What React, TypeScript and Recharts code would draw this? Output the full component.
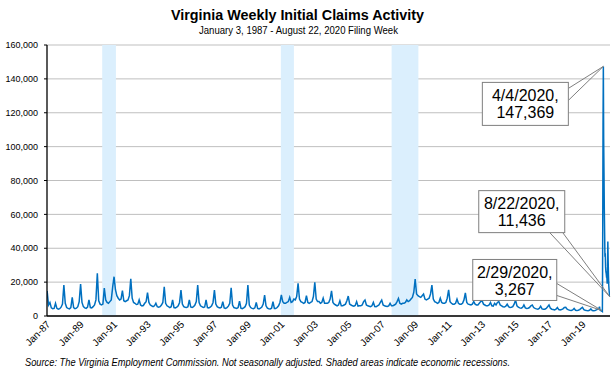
import React from 'react';
import {
  ComposedChart,
  Line,
  XAxis,
  YAxis,
  CartesianGrid,
  ReferenceArea,
  ReferenceDot,
} from 'recharts';

// ---------- DATA ----------
const firstYear = 1987;

// Monthly initial claims (thousands), Jan..Dec, one row per year 1987-2019
const monthlyClaimsK: number[][] = [
  [14.7, 6.5, 8.0, 4.8, 4.3, 4.5, 7.5, 4.5, 4.0, 4.3, 5.2, 7.0], // 1987
  [18.3, 7.5, 5.0, 4.5, 4.2, 5.0, 11.0, 5.0, 4.3, 4.6, 5.5, 8.5], // 1988
  [18.9, 8.0, 5.5, 4.8, 4.5, 5.2, 9.5, 5.0, 4.8, 5.5, 6.5, 9.5], // 1989
  [25.2, 9.0, 7.0, 6.5, 7.0, 16.5, 9.5, 8.0, 7.5, 8.5, 9.5, 17.0], // 1990
  [23.2, 15.5, 12.0, 10.5, 9.5, 10.0, 15.0, 9.0, 8.5, 9.0, 9.5, 12.0], // 1991
  [22.0, 10.5, 8.0, 7.5, 6.8, 7.0, 9.5, 6.5, 6.0, 6.2, 7.5, 8.5], // 1992
  [13.8, 8.0, 6.5, 6.0, 5.5, 6.0, 7.5, 5.5, 5.2, 5.5, 6.5, 8.0], // 1993
  [17.3, 7.5, 6.0, 5.5, 5.0, 5.5, 9.5, 5.0, 4.8, 5.2, 6.0, 8.0], // 1994
  [15.3, 7.0, 5.5, 5.2, 5.0, 5.5, 9.5, 5.3, 5.0, 5.5, 6.5, 8.5], // 1995
  [18.3, 8.0, 6.0, 5.5, 5.0, 5.3, 9.5, 5.0, 4.8, 5.2, 6.0, 8.0], // 1996
  [15.3, 7.0, 5.5, 5.0, 4.8, 5.2, 8.5, 4.8, 4.5, 5.0, 5.8, 7.5], // 1997
  [16.7, 6.5, 5.0, 4.7, 4.5, 5.0, 8.8, 4.6, 4.3, 4.8, 5.5, 7.5], // 1998
  [18.3, 6.5, 5.0, 4.5, 4.3, 4.8, 8.0, 4.5, 4.2, 4.6, 5.3, 7.0], // 1999
  [12.4, 6.0, 4.6, 4.3, 4.2, 4.6, 8.5, 4.5, 4.5, 5.0, 6.0, 8.0], // 2000
  [12.4, 8.5, 7.5, 7.5, 8.0, 8.5, 11.0, 8.0, 8.5, 10.0, 9.5, 11.5], // 2001
  [19.3, 10.0, 8.5, 8.0, 7.5, 8.0, 12.0, 8.0, 7.5, 8.0, 8.5, 11.5], // 2002
  [19.9, 10.0, 8.5, 8.5, 7.5, 8.0, 10.5, 7.5, 7.5, 7.5, 8.0, 10.0], // 2003
  [14.9, 8.0, 7.0, 6.5, 6.0, 6.5, 9.0, 6.0, 6.0, 6.5, 7.0, 9.0], // 2004
  [11.8, 7.0, 6.5, 6.0, 5.8, 6.2, 8.5, 5.8, 6.0, 6.0, 6.5, 8.5], // 2005
  [9.4, 6.5, 6.0, 5.8, 5.5, 6.0, 8.0, 5.6, 5.5, 6.0, 6.5, 8.0], // 2006
  [9.4, 6.5, 6.0, 5.8, 5.6, 6.0, 7.5, 6.0, 6.0, 6.5, 7.0, 8.5], // 2007
  [10.4, 7.5, 7.0, 7.5, 7.5, 8.0, 9.5, 8.5, 9.0, 10.0, 11.0, 14.0], // 2008
  [21.8, 13.0, 12.0, 11.5, 11.0, 12.0, 13.0, 10.0, 9.5, 10.0, 10.5, 13.0], // 2009
  [18.3, 10.0, 8.5, 8.0, 7.5, 8.0, 10.5, 8.0, 7.5, 7.5, 8.0, 10.5], // 2010
  [15.5, 8.5, 7.5, 7.0, 7.0, 7.5, 10.0, 7.5, 7.0, 7.0, 7.5, 9.5], // 2011
  [13.6, 8.0, 7.0, 6.8, 6.5, 7.0, 8.5, 7.0, 6.5, 6.5, 7.5, 8.5], // 2012
  [9.0, 7.0, 6.5, 6.0, 6.0, 6.5, 8.0, 6.0, 5.8, 7.5, 6.5, 8.0], // 2013
  [8.5, 6.5, 6.0, 5.5, 5.3, 5.8, 7.0, 5.5, 5.0, 5.2, 5.5, 7.0], // 2014
  [9.4, 6.0, 5.2, 4.8, 4.6, 5.0, 6.5, 4.8, 4.5, 4.6, 5.0, 6.0], // 2015
  [6.5, 5.0, 4.5, 4.2, 4.0, 4.5, 5.8, 4.2, 4.0, 4.0, 4.5, 5.5], // 2016
  [6.5, 4.6, 4.0, 3.8, 3.6, 4.0, 5.0, 3.8, 3.6, 3.8, 4.2, 5.0], // 2017
  [5.1, 4.0, 3.6, 3.4, 3.3, 3.6, 4.5, 3.4, 3.3, 3.4, 3.8, 4.5], // 2018
  [5.1, 3.8, 3.4, 3.2, 3.1, 3.4, 4.2, 3.2, 3.1, 3.3, 3.6, 4.0], // 2019
];

// Weekly filing weeks in 2020
const weeks2020: string[] = [
  '2020-01-04', '2020-01-11', '2020-01-18', '2020-01-25', '2020-02-01', '2020-02-08',
  '2020-02-15', '2020-02-22', '2020-02-29', '2020-03-07', '2020-03-14', '2020-03-21',
  '2020-03-28', '2020-04-04', '2020-04-11', '2020-04-18', '2020-04-25', '2020-05-02',
  '2020-05-09', '2020-05-16', '2020-05-23', '2020-05-30', '2020-06-06', '2020-06-13',
  '2020-06-20', '2020-06-27', '2020-07-04', '2020-07-11', '2020-07-18', '2020-07-25',
  '2020-08-01', '2020-08-08', '2020-08-15', '2020-08-22',
];
const claims2020: number[] = [
  4800, 5500, 3900, 3400, 3300, 3200,
  3100, 3000, 3267, 2900, 2706, 46277,
  112497, 147369, 104740, 84669, 63000, 49000,
  35000, 37000, 29000, 26000, 25000, 23000,
  23000, 19000, 25000, 44000, 33000, 24000,
  18000, 15000, 13000, 11436,
];

const annotatedWeeks: string[] = ['2020-04-04', '2020-08-22', '2020-02-29'];

const recessions: [number, number][] = [
  [1990.3, 1991.12],
  [2000.98, 2001.76],
  [2007.6, 2009.2],
];

const xTicks: number[] = [1987, 1989, 1991, 1993, 1995, 1997, 1999, 2001, 2003, 2005, 2007, 2009, 2011, 2013, 2015, 2017, 2019];
const yTicks: number[] = [0, 20000, 40000, 60000, 80000, 100000, 120000, 140000, 160000];
const monthNames = ['Jan', 'Feb', 'Mar', 'Apr', 'May', 'Jun', 'Jul', 'Aug', 'Sep', 'Oct', 'Nov', 'Dec'];

const titleText = 'Virginia Weekly Initial Claims Activity';
const subtitleText = 'January 3, 1987 - August 22, 2020 Filing Week';
const sourceText =
  'Source: The Virginia Employment Commission. Not seasonally adjusted. Shaded areas indicate economic recessions.';

// ---------- BUILD ----------
const isoToYear = (iso: string) => {
  const t = Date.parse(iso + 'T00:00:00Z');
  const y = new Date(t).getUTCFullYear();
  const a = Date.UTC(y, 0, 1);
  const b = Date.UTC(y + 1, 0, 1);
  return y + (t - a) / (b - a);
};

type Pt = { t: number; v: number };
const data: Pt[] = [];
monthlyClaimsK.forEach((row, yi) => {
  row.forEach((k, m) => {
    data.push({ t: firstYear + yi + (m + 0.1) / 12, v: Math.round(k * 1000) });
  });
});
weeks2020.forEach((w, i) => data.push({ t: isoToYear(w), v: claims2020[i] }));

const xMax = isoToYear(weeks2020[weeks2020.length - 1]) + 0.015;

const fmtNum = (v: number) => v.toLocaleString('en-US');
const fmtDate = (iso: string) => {
  const [y, m, d] = iso.split('-').map(Number);
  return `${m}/${d}/${y},`;
};

const FONT = '"Liberation Sans", Arial, sans-serif';

// callout geometry (box offset from data point, leader-line anchors)
const calloutGeo = [
  { dx: -121, dy: 16, w: 86, h: 43, a1: [-35, 22], a2: [-35, 34] },
  { dx: -131, dy: -106, w: 86, h: 42, a1: [-60, -64], a2: [-47, -64] },
  { dx: -129, dy: -51, w: 84, h: 41, a1: [-45, -27], a2: [-45, -15] },
];

const Callout = (props: any) => {
  const { cx, cy, geo, lines } = props;
  if (cx == null || cy == null) return null;
  const bx = cx + geo.dx;
  const by = cy + geo.dy;
  return (
    <g>
      <line x1={cx + geo.a1[0]} y1={cy + geo.a1[1]} x2={cx} y2={cy} stroke="#7f7f7f" strokeWidth={1} />
      <line x1={cx + geo.a2[0]} y1={cy + geo.a2[1]} x2={cx} y2={cy} stroke="#7f7f7f" strokeWidth={1} />
      <rect x={bx} y={by} width={geo.w} height={geo.h} fill="#fff" stroke="#7f7f7f" strokeWidth={1} />
      <text x={bx + geo.w / 2} y={by + 18.5} textAnchor="middle" fontSize={16} fontFamily={FONT} fill="#000">
        {lines[0]}
      </text>
      <text x={bx + geo.w / 2} y={by + 35.5} textAnchor="middle" fontSize={16} fontFamily={FONT} fill="#000">
        {lines[1]}
      </text>
    </g>
  );
};

const XTick = (props: any) => {
  const { x, y, payload } = props;
  const ax = x + 4;
  const ay = y + 9;
  const yr = String(payload.value).slice(2);
  return (
    <text
      x={ax}
      y={ay}
      textAnchor="end"
      transform={`rotate(-45 ${ax} ${ay})`}
      fontSize={10}
      fontFamily={FONT}
      fill="#000"
    >
      {`${monthNames[0]}-${yr}`}
    </text>
  );
};

export default function App() {
  return (
    <div style={{ position: 'absolute', left: 0, top: 0, width: 614, height: 374, background: '#fff' }}>
      <ComposedChart
        width={614}
        height={374}
        data={data}
        margin={{ top: 45, right: 4, left: 0, bottom: 0 }}
      >
        <CartesianGrid horizontal vertical={false} stroke="#bfbfbf" strokeWidth={1} />
        {recessions.map(([a, b], i) => (
          <ReferenceArea key={i} x1={a} x2={b} y1={0} y2={160000} fill="#dbeffd" fillOpacity={1} stroke="none" />
        ))}
        <XAxis
          dataKey="t"
          type="number"
          domain={[firstYear, xMax]}
          ticks={xTicks}
          interval={0}
          tick={<XTick />}
          tickLine={false}
          tickSize={0}
          tickMargin={0}
          height={58}
          axisLine={{ stroke: '#000', strokeWidth: 1.3 }}
          allowDataOverflow
        />
        <YAxis
          type="number"
          domain={[0, 160000]}
          ticks={yTicks}
          interval={0}
          width={47}
          tickFormatter={fmtNum}
          tick={{ fontSize: 9, fontFamily: FONT, fill: '#000' }}
          tickSize={3}
          tickMargin={6}
          tickLine={{ stroke: '#000' }}
          axisLine={{ stroke: '#000', strokeWidth: 1.3 }}
        />
        <Line
          type="linear"
          dataKey="v"
          stroke="#0070c0"
          strokeWidth={1.5}
          dot={false}
          activeDot={false}
          isAnimationActive={false}
        />
        {annotatedWeeks.map((w, i) => {
          const idx = weeks2020.indexOf(w);
          const val = claims2020[idx];
          return (
            <ReferenceDot
              key={w}
              x={isoToYear(w)}
              y={val}
              r={0}
              ifOverflow="visible"
              shape={(p: any) => <Callout {...p} geo={calloutGeo[i]} lines={[fmtDate(w), fmtNum(val)]} />}
            />
          );
        })}
      </ComposedChart>
      <svg
        width={614}
        height={374}
        style={{ position: 'absolute', left: 0, top: 0, pointerEvents: 'none' }}
      >
        <text
          x={297.5}
          y={20}
          textAnchor="middle"
          fontSize={14}
          fontWeight="bold"
          fontFamily={FONT}
          textLength={253}
          lengthAdjust="spacingAndGlyphs"
          fill="#000"
        >
          {titleText}
        </text>
        <text
          x={298.5}
          y={34}
          textAnchor="middle"
          fontSize={10.5}
          fontFamily={FONT}
          textLength={199}
          lengthAdjust="spacingAndGlyphs"
          fill="#000"
        >
          {subtitleText}
        </text>
        <text
          x={25}
          y={366}
          fontSize={10}
          fontStyle="italic"
          fontFamily={FONT}
          textLength={485}
          lengthAdjust="spacingAndGlyphs"
          fill="#000"
        >
          {sourceText}
        </text>
      </svg>
    </div>
  );
}
